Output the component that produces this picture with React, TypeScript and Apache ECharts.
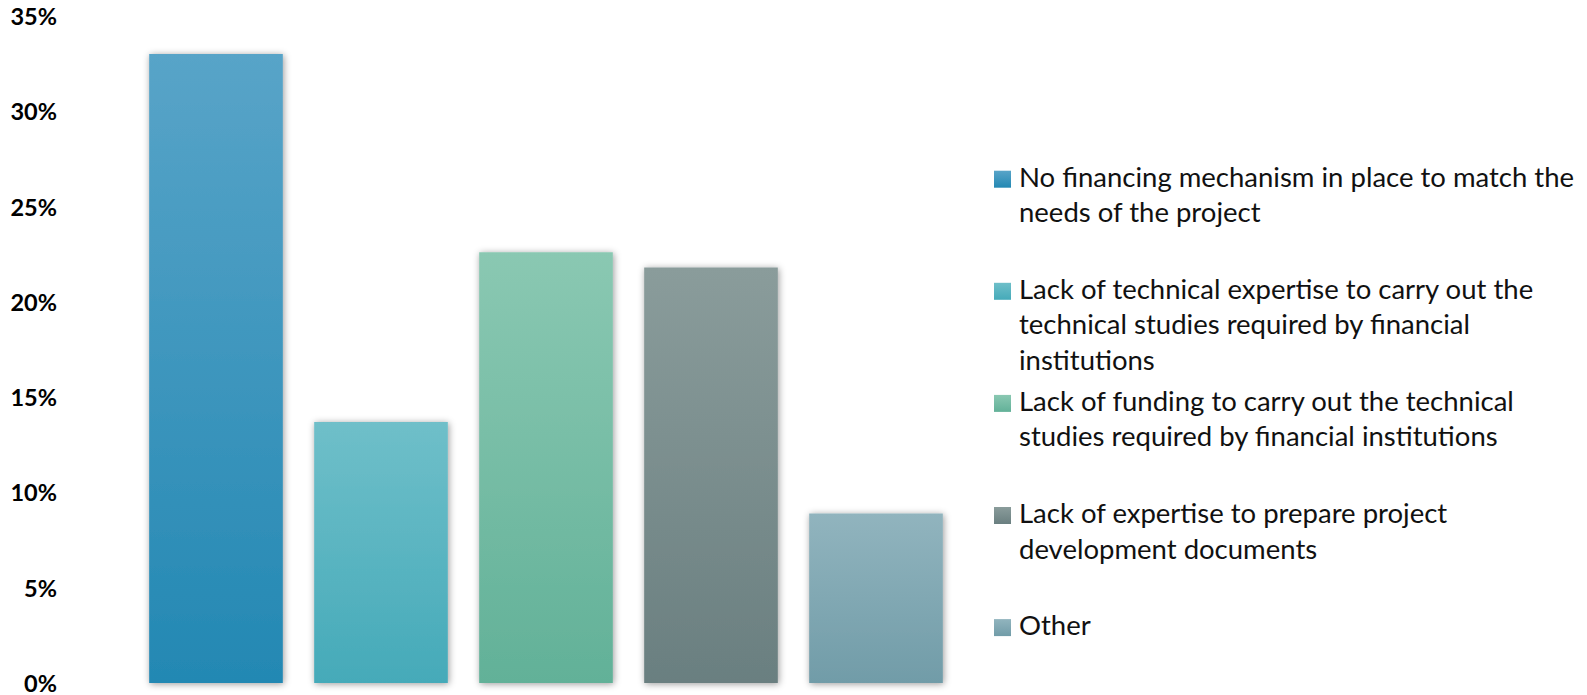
import React, { useEffect, useRef } from "react";
import * as echarts from "echarts";

const categories: string[] = [
  "No financing mechanism in place to match the\nneeds of the project",
  "Lack of technical expertise to carry out the\ntechnical studies required by financial\ninstitutions",
  "Lack of funding to carry out the technical\nstudies required by financial institutions",
  "Lack of expertise to prepare project\ndevelopment documents",
  "Other",
];
const values: number[] = [33.0, 13.7, 22.6, 21.8, 8.9];
const yMin = 0;
const yMax = 35;
const yStep = 5;
const colorTop: string[] = ["#58A4C8", "#6FBFC9", "#8AC8B2", "#8A9C9B", "#91B4BE"];
const colorBottom: string[] = ["#2388B3", "#45AAB9", "#62B198", "#6A7F80", "#719CA8"];

const FONT = "Lato, 'Open Sans', sans-serif";

export default function App() {
  const ref = useRef<HTMLDivElement>(null);
  useEffect(() => {
    document.body.style.margin = "0";
    if (!ref.current) return;
    const chart = echarts.init(ref.current, undefined, { renderer: "svg" });
    const grad = (i: number) =>
      new echarts.graphic.LinearGradient(0, 0, 0, 1, [
        { offset: 0, color: colorTop[i] },
        { offset: 1, color: colorBottom[i] },
      ]);
    const series = values.map((v, i) => ({
      name: categories[i],
      type: "bar",
      stack: "all",
      barCategoryGap: "19%",
      data: values.map((_, j) => (j === i ? v : null)),
      itemStyle: {
        color: grad(i),
        shadowBlur: 7,
        shadowColor: "rgba(0,0,0,0.4)",
        shadowOffsetX: 1,
        shadowOffsetY: 1,
      },
    }));
    const legendX = 994;
    const legendFirstCenter = 179.2;
    const legendPitch = 112.1;
    const lineH = 35.5;
    const icon = 17;
    const legendItems = categories.map((c, i) => ({
      type: "group",
      x: legendX,
      y: legendFirstCenter + i * legendPitch,
      children: [
        {
          type: "rect",
          shape: { x: 0, y: -icon / 2, width: icon, height: icon },
          style: { fill: grad(i) },
        },
        {
          type: "text",
          x: 25,
          y: -3 - lineH / 2,
          style: {
            text: c,
            font: `27.5px ${FONT}`,
            lineHeight: lineH,
            fill: "#111111",
            verticalAlign: "top",
            align: "left",
          },
        },
      ],
    }));
    chart.setOption({
      animation: false,
      grid: { left: 133.5, right: 628.5, top: 16, bottom: 5, containLabel: false },
      xAxis: {
        type: "category",
        data: categories,
        axisLine: { show: false },
        axisTick: { show: false },
        axisLabel: { show: false },
      },
      yAxis: {
        type: "value",
        min: yMin,
        max: yMax,
        interval: yStep,
        axisLine: { show: false },
        axisTick: { show: false },
        splitLine: { show: false },
        axisLabel: {
          formatter: "{value}%",
          margin: 76.5,
          fontFamily: FONT,
          fontWeight: "bold",
          fontSize: 23.5,
          color: "#000000",
        },
      },
      series,
      graphic: legendItems,
    });
    return () => chart.dispose();
  }, []);
  return <div ref={ref} style={{ width: 1587, height: 695 }} />;
}
